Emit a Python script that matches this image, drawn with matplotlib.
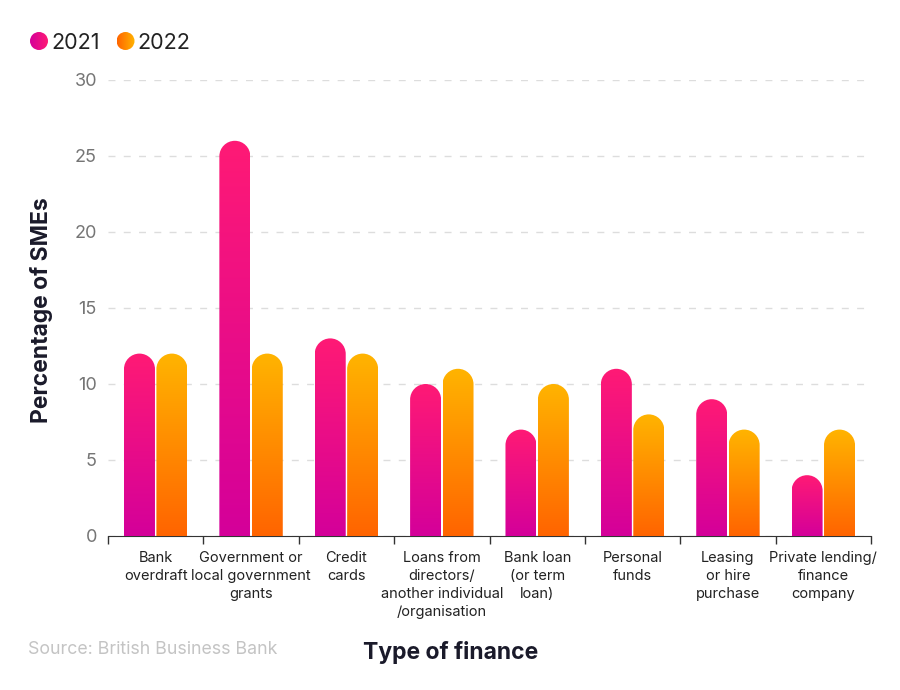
import numpy as np
import matplotlib
matplotlib.use('Agg')
import matplotlib.pyplot as plt
from matplotlib.path import Path
from matplotlib.patches import PathPatch, Circle
from matplotlib.colors import LinearSegmentedColormap

plt.rcParams['font.family'] = ['Inter', 'DejaVu Sans']

categories = ['Bank\noverdraft', 'Government or\nlocal government\ngrants', 'Credit\ncards',
              'Loans from\ndirectors/\nanother individual\n/organisation', 'Bank loan\n(or term\nloan)',
              'Personal\nfunds', 'Leasing\nor hire\npurchase', 'Private lending/\nfinance\ncompany']
y2021 = [12, 26, 13, 10, 7, 11, 9, 4]
y2022 = [12, 12, 12, 11, 10, 8, 7, 7]
years = ['2021', '2022']

# gradient colours (bottom -> top)
pink = LinearSegmentedColormap.from_list('pink', ['#d4009a', '#ff1a75'])
orange = LinearSegmentedColormap.from_list('orange', ['#ff6400', '#ffb400'])

W, H = 900, 690
fig = plt.figure(figsize=(9, 6.9), dpi=100)
ax = fig.add_axes([108/W, 1-536/H, (871-108)/W, (536-80)/H])
xmin, xmax, ymin, ymax = -0.5, 7.5, 0, 30

bw = 0.325     # bar width in data units
off = 0.17
px_x = (871-108)/(xmax-xmin)
px_y = (536-80)/(ymax-ymin)
ry = (bw*px_x/2)/px_y   # corner radius in y data units
k = 0.5523

grad = np.linspace(0, 1, 256).reshape(-1, 1)

def rounded_bar(xc, h, cmap):
    x0, x1 = xc-bw/2, xc+bw/2
    rx = bw/2
    r = min(ry, h)
    verts = [(x0, 0), (x0, h-r),
             (x0, h-r+k*r), (xc-k*rx, h), (xc, h),
             (xc+k*rx, h), (x1, h-r+k*r), (x1, h-r),
             (x1, 0), (x0, 0)]
    codes = [Path.MOVETO, Path.LINETO,
             Path.CURVE4, Path.CURVE4, Path.CURVE4,
             Path.CURVE4, Path.CURVE4, Path.CURVE4,
             Path.LINETO, Path.CLOSEPOLY]
    patch = PathPatch(Path(verts, codes), facecolor='none', edgecolor='none')
    ax.add_patch(patch)
    im = ax.imshow(grad, cmap=cmap, origin='lower', aspect='auto',
                   extent=[x0, x1, 0, h], zorder=3)
    im.set_clip_path(patch)

for i in range(len(categories)):
    rounded_bar(i-off, y2021[i], pink)
    rounded_bar(i+off, y2022[i], orange)

ax.set_xlim(xmin, xmax)
ax.set_ylim(ymin, ymax)

ax.set_yticks(range(0, 31, 5))
ax.yaxis.grid(True, color='#dddddd', linewidth=1, dashes=(5, 6))
ax.set_axisbelow(True)
ax.tick_params(axis='y', length=0, pad=8, labelsize=13, labelcolor='#757575')

ax.set_xticks(np.arange(-0.5, 8, 1))
ax.set_xticklabels([])
ax.set_xticks(range(len(categories)), minor=True)
ax.set_xticklabels(categories, minor=True, fontsize=10.5, color='#222222', linespacing=1.36)
ax.tick_params(axis='x', which='major', length=6, color='#333333', width=1)
ax.tick_params(axis='x', which='minor', length=0, pad=11)

for s in ['left', 'right', 'top']:
    ax.spines[s].set_visible(False)
ax.spines['bottom'].set_color('#333333')

fig.text(451/W, 1-652/H, 'Type of finance', ha='center', va='center',
         fontsize=16.5, fontweight='bold', color='#1a1a2a')
fig.text(42/W, 1-310/H, 'Percentage of SMEs', ha='center', va='center', rotation=90,
         fontsize=16.5, fontweight='bold', color='#1a1a2a')
fig.text(28/W, 1-650/H, 'Source: British Business Bank', ha='left', va='center',
         fontsize=12.8, color='#c4c4c4')

# legend with gradient dots
lax = fig.add_axes([0, 0, 1, 1])
lax.set_xlim(0, W)
lax.set_ylim(H, 0)
lax.axis('off')
hgrad = np.linspace(0, 1, 256).reshape(1, -1)
for cx, cmap, lab in [(39, pink, years[0]), (125.5, orange, years[1])]:
    c = Circle((cx, 41), 9, facecolor='none', edgecolor='none')
    lax.add_patch(c)
    im = lax.imshow(hgrad, cmap=cmap, aspect='auto', extent=[cx-9, cx+9, 50, 32])
    im.set_clip_path(c)
    lax.text(cx+12, 43, lab, ha='left', va='center', fontsize=15.5, color='#222222')
lax.set_xlim(0, W)
lax.set_ylim(H, 0)

fig.savefig('out.png', dpi=100)
